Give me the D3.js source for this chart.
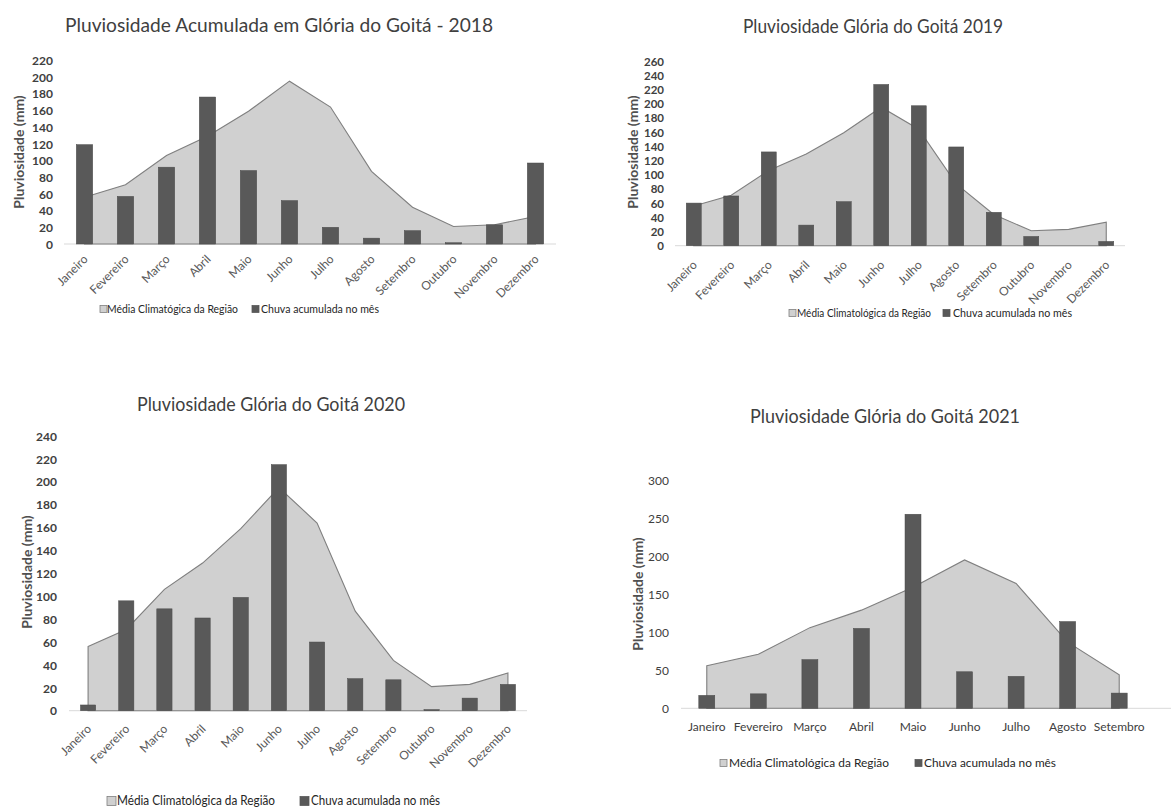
<!DOCTYPE html>
<html><head><meta charset="utf-8">
<script src="https://cdn.jsdelivr.net/npm/d3@7"></script>
<style>
body{margin:0;background:#fff;}
svg{display:block;font-family:Lato, "Open Sans", sans-serif;}
</style></head>
<body>
<svg id="c" width="1171" height="812"></svg>
<script>
const meses = ["Janeiro","Fevereiro","Março","Abril","Maio","Junho","Julho","Agosto","Setembro","Outubro","Novembro","Dezembro"];
const meses2021 = ["Janeiro","Fevereiro","Março","Abril","Maio","Junho","Julho","Agosto","Setembro"];
const mediaClimatologica = [56, 71, 106, 129, 159, 195, 164, 87, 44, 21, 23, 33];
const chuva2018 = [119, 57, 92, 176, 88, 52, 20, 7, 16, 1.5, 23, 97];
const chuva2019 = [60, 70, 132, 29, 62, 227, 197, 139, 47, 13, 0, 6];
const chuva2020 = [5, 96, 89, 81, 99, 215, 60, 28, 27, 1, 11, 23];
const chuva2021 = [17, 19, 64, 105, 255, 48, 42, 114, 20];
const ticks2018 = [0,20,40,60,80,100,120,140,160,180,200,220];
const ticks2019 = [0,20,40,60,80,100,120,140,160,180,200,220,240,260];
const ticks2020 = [0,20,40,60,80,100,120,140,160,180,200,220,240];
const ticks2021 = [0,50,100,150,200,250,300];
const titulos = ["Pluviosidade Acumulada em Glória do Goitá - 2018","Pluviosidade Glória do Goitá 2019","Pluviosidade Glória do Goitá 2020","Pluviosidade Glória do Goitá 2021"];
const legendaMedia2018 = "Média Climatógica da Região";
const legendaMedia = "Média Climatológica da Região";
const legendaChuva = "Chuva acumulada no mês";
const eixoY = "Pluviosidade (mm)";

const svg = d3.select("#c");
const BAR = "#595959", AREA = "#d0d0d0", LINE = "#7f7f7f", TXT = "#404040";

function panel(cfg){
  const g = svg.append("g");
  const cats = cfg.cats;
  const x = d3.scaleBand().domain(cats).range(cfg.xRange).paddingInner(cfg.pad).paddingOuter(cfg.pad/2);
  const y = d3.scaleLinear().domain([0, d3.max(cfg.ticks)]).range(cfg.yRange);
  const cx = c => x(c) + x.bandwidth()/2;
  const clim = cfg.clim.slice(0, cats.length);
  const area = d3.area().x((d,i)=>cx(cats[i])).y0(y(0)).y1(d=>y(d));
  g.append("line").attr("x1",cfg.xRange[0]).attr("x2",cfg.baseEnd || cfg.xRange[1])
    .attr("y1",y(0)).attr("y2",y(0)).attr("stroke","#d9d9d9").attr("stroke-width",1);
  g.append("path").datum(clim).attr("d",area).attr("fill",AREA).attr("stroke",LINE).attr("stroke-width",1.1);
  g.selectAll("rect.b").data(cfg.rain).join("rect")
    .attr("x",(d,i)=>x(cats[i])).attr("width",x.bandwidth())
    .attr("y",d=>y(d)).attr("height",d=>y(0)-y(d))
    .attr("fill",BAR).attr("stroke","#4a4a4a").attr("stroke-width",0.5);
  const ya = d3.axisLeft(y).tickValues(cfg.ticks).tickSize(0).tickPadding(0);
  const yg = g.append("g").attr("transform",`translate(${cfg.tickX},0)`).call(ya);
  yg.select(".domain").remove();
  yg.selectAll("text").attr("font-size",cfg.tickFont).attr("font-weight",cfg.tickWeight)
    .attr("fill",TXT).attr("font-family","Lato, sans-serif").attr("dy","0.35em");
  const xa = d3.axisBottom(x).tickSize(0).tickPadding(0);
  const xg = g.append("g").attr("transform",`translate(0,${y(0)})`).call(xa);
  xg.select(".domain").remove();
  if(cfg.rotate){
    xg.selectAll("text").attr("text-anchor","end").attr("dy",0).attr("y",0)
      .attr("transform",`translate(4,${cfg.labDy}) rotate(-45)`)
      .attr("font-size",cfg.xFont).attr("fill","#595959").attr("font-family","Lato, sans-serif");
  } else {
    xg.selectAll("text").attr("y",cfg.labDy).attr("dy","0.35em")
      .attr("font-size",cfg.xFont).attr("fill",TXT).attr("font-family","Lato, sans-serif");
  }
  g.append("text").attr("transform",`translate(${cfg.ylab[0]},${cfg.ylab[1]}) rotate(-90)`)
    .attr("text-anchor","middle").attr("dy","0.35em").attr("font-size",14).attr("font-weight",700)
    .attr("fill","#505050").text(eixoY);
  g.append("text").attr("x",cfg.title[0]).attr("y",cfg.title[1]).attr("text-anchor","middle")
    .attr("font-size",20).attr("fill",TXT).attr("textLength",cfg.title[2]).attr("lengthAdjust","spacingAndGlyphs")
    .text(cfg.titleText);
  cfg.legend.forEach(L=>{
    const s = L.size;
    g.append("rect").attr("x",L.x).attr("y",cfg.legY - s/2).attr("width",s).attr("height",s)
      .attr("fill",L.dark?BAR:AREA).attr("stroke",L.dark?BAR:LINE).attr("stroke-width",0.8);
    g.append("text").attr("x",L.tx).attr("y",cfg.legY).attr("dy","0.35em")
      .attr("font-size",L.fs).attr("fill","#262626").attr("textLength",L.w).attr("lengthAdjust","spacingAndGlyphs")
      .text(L.text);
  });
}

panel({cats:meses, clim:mediaClimatologica, rain:chuva2018, ticks:ticks2018,
  xRange:[64,556], yRange:[244,60.3], pad:0.6, tickX:53, tickFont:12, tickWeight:700,
  rotate:true, labDy:16, xFont:12, ylab:[19,152], title:[279,32,428], titleText:titulos[0],
  legY:309, legend:[
    {x:100,size:7,tx:107,w:131,fs:11,text:legendaMedia2018},
    {x:252,size:7,tx:261,w:118,fs:11,dark:true,text:legendaChuva}]});

panel({cats:meses, clim:mediaClimatologica, rain:chuva2019, ticks:ticks2019,
  xRange:[675,1125], yRange:[245.7,61], pad:0.6, tickX:664, tickFont:11.5, tickWeight:700,
  rotate:true, labDy:20, xFont:12, ylab:[633,152], title:[873,33,260], titleText:titulos[1],
  legY:313, legend:[
    {x:789,size:7,tx:797,w:134,fs:11,text:legendaMedia},
    {x:943,size:7,tx:953,w:119,fs:11,dark:true,text:legendaChuva}]});

panel({cats:meses, clim:mediaClimatologica, rain:chuva2020, ticks:ticks2020,
  xRange:[69,527], yRange:[710.7,436], pad:0.6, tickX:57, tickFont:12, tickWeight:700,
  rotate:true, labDy:19, xFont:12, ylab:[27,572], title:[271,411,268], titleText:titulos[2],
  legY:801, legend:[
    {x:107,size:9,tx:117,w:158,fs:12.5,text:legendaMedia},
    {x:300,size:9,tx:311,w:129,fs:12.5,dark:true,text:legendaChuva}]});

panel({cats:meses2021, clim:mediaClimatologica, rain:chuva2021, ticks:ticks2021,
  xRange:[681,1145], baseEnd:1171, yRange:[708.3,480], pad:0.69, tickX:669, tickFont:12, tickWeight:400,
  rotate:false, labDy:19, xFont:12, ylab:[638,594], title:[885,423,270], titleText:titulos[3],
  legY:763, legend:[
    {x:720,size:7,tx:729,w:160,fs:12,text:legendaMedia},
    {x:915,size:7,tx:924,w:132,fs:12,dark:true,text:legendaChuva}]});
</script>
</body></html>
